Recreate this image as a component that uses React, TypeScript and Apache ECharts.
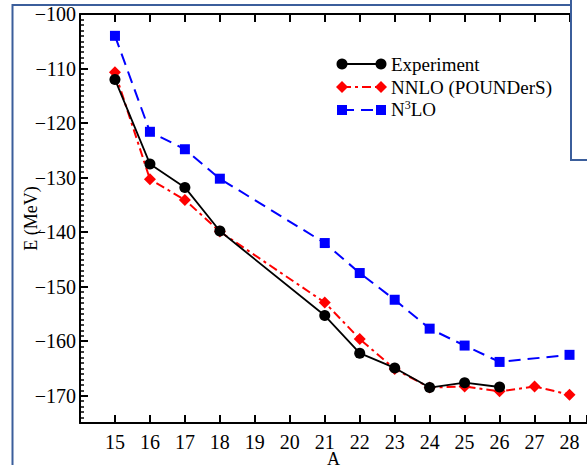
import React, { useEffect, useRef } from "react";
import * as echarts from "echarts";

const xs = [15, 16, 17, 18, 21, 22, 23, 24, 25, 26];
const experiment = [-112.0, -127.5, -131.8, -139.8, -155.3, -162.2, -164.9, -168.5, -167.6, -168.4];
const nnloX = [15, 16, 17, 18, 21, 22, 23, 24, 25, 26, 27, 28];
const nnlo = [-110.7, -130.3, -134.1, -139.9, -152.9, -159.6, -165.1, -168.5, -168.3, -169.2, -168.3, -169.8];
const n3loX = [15, 16, 17, 18, 21, 22, 23, 24, 25, 26, 28];
const n3lo = [-104.0, -121.6, -124.8, -130.2, -142.0, -147.5, -152.4, -157.7, -160.8, -163.8, -162.5];
const yTickLabels = [-170, -160, -150, -140, -130, -120, -110, -100];
const legendNames = ["Experiment", "NNLO (POUNDerS)", "N3LO"];

const FONT = "'Liberation Serif', 'Times New Roman', serif";
const FRAME = "#3b5e9b";

export default function App() {
  const ref = useRef<HTMLDivElement>(null);
  useEffect(() => {
    if (!ref.current) return;
    const chart = echarts.init(ref.current, undefined, { renderer: "svg" });
    const pair = (xv: number[], yv: number[]) => xv.map((x, i) => [x, yv[i]]);
    const fmtY = (v: number) => (yTickLabels.includes(v) ? "\u2212" + String(Math.abs(v)) : "");
    const lx1 = 342, lx2 = 381, tx = 391;
    const ly = [64, 87, 110];
    const diamond = (cx: number, cy: number, r: number) => ({
      type: "polygon",
      shape: { points: [[cx, cy - r], [cx + r, cy], [cx, cy + r], [cx - r, cy]] },
      style: { fill: "#ff0000" },
    });
    const graphics: any[] = [
      // legend
      { type: "line", shape: { x1: lx1, y1: ly[0], x2: lx2, y2: ly[0] }, style: { stroke: "#000", lineWidth: 2 } },
      { type: "circle", shape: { cx: lx1, cy: ly[0], r: 5.5 }, style: { fill: "#000" } },
      { type: "circle", shape: { cx: lx2, cy: ly[0], r: 5.5 }, style: { fill: "#000" } },
      { type: "text", x: tx, y: ly[0], style: { text: legendNames[0], font: `19px ${FONT}`, fill: "#000", verticalAlign: "middle" } },
      { type: "line", shape: { x1: lx1, y1: ly[1], x2: lx2, y2: ly[1] }, style: { stroke: "#ff0000", lineWidth: 2, lineDash: [9, 4, 3, 4] } },
      diamond(lx1, ly[1], 6),
      diamond(lx2, ly[1], 6),
      { type: "text", x: tx, y: ly[1], style: { text: legendNames[1], font: `19px ${FONT}`, fill: "#000", verticalAlign: "middle" } },
      { type: "line", shape: { x1: lx1, y1: ly[2], x2: lx2, y2: ly[2] }, style: { stroke: "#0000ff", lineWidth: 2, lineDash: [12, 7] } },
      { type: "rect", shape: { x: lx1 - 5, y: ly[2] - 5, width: 10, height: 10 }, style: { fill: "#0000ff" } },
      { type: "rect", shape: { x: lx2 - 5, y: ly[2] - 5, width: 10, height: 10 }, style: { fill: "#0000ff" } },
      {
        type: "text", x: tx, y: ly[2] - 1,
        style: {
          text: "{n|N}{s|3}{n|LO}",
          verticalAlign: "middle",
          rich: {
            n: { fontFamily: FONT, fontSize: 19, fill: "#000", lineHeight: 20, verticalAlign: "bottom" },
            s: { fontFamily: FONT, fontSize: 12, fill: "#000", lineHeight: 12, verticalAlign: "top" },
          },
        },
      },
      // slide frame
      { type: "polyline", shape: { points: [[12.5, 470], [12.5, 5], [571, 5]] }, style: { stroke: FRAME, lineWidth: 2, fill: "none" }, z: 100 },
      { type: "rect", shape: { x: 571, y: -10, width: 40, height: 170 }, style: { fill: "#fff", stroke: FRAME, lineWidth: 2 }, z: 100 },
    ];
    chart.setOption({
      animation: false,
      backgroundColor: "#fff",
      grid: { left: 80, top: 14, right: 0, bottom: 42, containLabel: false, outerBoundsMode: "none" },
      xAxis: [
        {
          type: "value", position: "bottom", min: 14, max: 28.5, interval: 1,
          name: "A", nameLocation: "middle", nameGap: 29, nameMoveOverlap: false,
          nameTextStyle: { fontFamily: FONT, fontSize: 18, lineHeight: 14, color: "#000", verticalAlign: "top" },
          axisLine: { show: true, lineStyle: { color: "#000", width: 2 } },
          axisTick: { show: true, inside: true, length: 8, lineStyle: { color: "#000", width: 2 } },
          axisLabel: {
            margin: 11, fontFamily: FONT, fontSize: 20, lineHeight: 16, color: "#000",
            formatter: (v: number) => (v >= 15 && v <= 28 && Number.isInteger(v) ? String(v) : ""),
          },
          splitLine: { show: false },
        },
        {
          type: "value", position: "top", min: 14, max: 28.5, interval: 1,
          axisLine: { show: true, lineStyle: { color: "#000", width: 2 } },
          axisTick: { show: true, inside: true, length: 8, lineStyle: { color: "#000", width: 2 } },
          axisLabel: { show: false },
          splitLine: { show: false },
        },
      ],
      yAxis: [
        {
          type: "value", position: "left", min: -175, max: -100, splitNumber: 7,
          name: "E (MeV)", nameLocation: "middle", nameGap: 40, nameRotate: 90, nameMoveOverlap: false,
          nameTextStyle: { fontFamily: FONT, fontSize: 18, color: "#000" },
          axisLine: { show: true, lineStyle: { color: "#000", width: 2 } },
          axisTick: { show: true, inside: true, length: 8, lineStyle: { color: "#000", width: 2 } },
          axisLabel: { margin: 4, fontFamily: FONT, fontSize: 20, color: "#000", formatter: fmtY },
          splitLine: { show: false },
        },
        {
          type: "value", position: "left", min: -175, max: -100, interval: 1,
          axisLine: { show: false },
          axisTick: { show: true, inside: true, length: 4, lineStyle: { color: "#000", width: 1.5 } },
          axisLabel: { show: false },
          splitLine: { show: false },
        },
      ],
      series: [
        {
          name: legendNames[0], type: "line", data: pair(xs, experiment),
          symbol: "circle", symbolSize: 11, z: 4,
          itemStyle: { color: "#000" },
          lineStyle: { color: "#000", width: 1.8, type: "solid" },
        },
        {
          name: legendNames[1], type: "line", data: pair(nnloX, nnlo),
          symbol: "diamond", symbolSize: 12, z: 3,
          itemStyle: { color: "#ff0000" },
          lineStyle: { color: "#ff0000", width: 2, type: [9, 4, 3, 4] },
        },
        {
          name: legendNames[2], type: "line", data: pair(n3loX, n3lo),
          symbol: "rect", symbolSize: 10, z: 2,
          itemStyle: { color: "#0000ff" },
          lineStyle: { color: "#0000ff", width: 2, type: [12, 7] },
        },
      ],
      graphic: graphics,
    });
    return () => chart.dispose();
  }, []);
  return <div ref={ref} style={{ position: "fixed", left: 0, top: 0, width: 587, height: 465 }} />;
}
